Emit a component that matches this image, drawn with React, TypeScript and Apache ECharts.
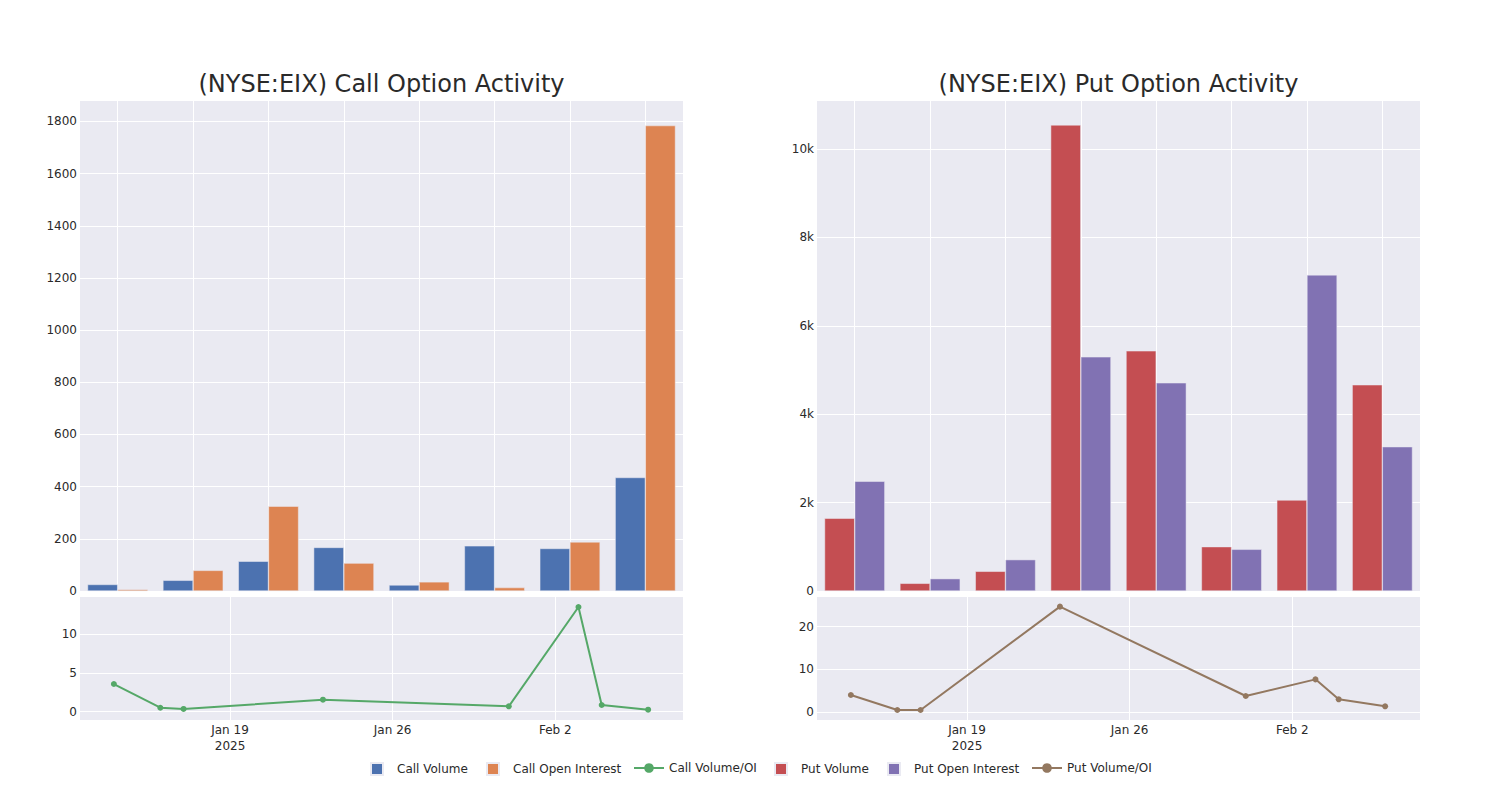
import React, { useEffect, useRef } from "react";
import * as echarts from "echarts";

const dates = ["2025-01-14", "2025-01-16", "2025-01-17", "2025-01-23", "2025-01-31", "2025-02-03", "2025-02-04", "2025-02-06"];
const callVolume = [25, 41, 114, 167, 23, 173, 163, 435];
const callOpenInterest = [6, 79, 325, 107, 35, 13, 188, 1784];
const callVolOI = [3.56, 0.51, 0.35, 1.54, 0.69, 13.47, 0.86, 0.26];
const putVolume = [1645, 174, 446, 10543, 5433, 1003, 2058, 4665];
const putOpenInterest = [2482, 279, 709, 5297, 4710, 943, 7151, 3264];
const putVolOI = [3.98, 0.47, 0.47, 24.7, 3.75, 7.65, 2.97, 1.33];
const dateTicks = ["2025-01-19", "2025-01-26", "2025-02-02"];
const callRatioTicks = [0, 5, 10];
const putRatioTicks = [0, 10, 20];
const months = ["Jan", "Feb", "Mar", "Apr", "May", "Jun", "Jul", "Aug", "Sep", "Oct", "Nov", "Dec"];

const FONT = "DejaVu Sans";
const TEXT = "rgb(42,42,42)";
const BG = "rgb(234,234,242)";

const ts = (s: string) => Date.parse(s + "T00:00:00Z");
const HOUR = 3600 * 1000;

export default function App() {
  const ref = useRef<HTMLDivElement>(null);
  useEffect(() => {
    if (!ref.current) return;
    const chart = echarts.init(ref.current, null, { renderer: "svg" });
    const tickTs = dateTicks.map(ts);
    const timeMin = ts("2025-01-12") + 13 * HOUR;
    const timeMax = ts("2025-02-07") + 12 * HOUR;
    const timeFormatter = (v: number) => {
      const d = new Date(v);
      const base = `${months[d.getUTCMonth()]} ${d.getUTCDate()}`;
      return v === tickTs[0] ? `${base}\n${d.getUTCFullYear()}` : base;
    };
    const catAxis = (gridIndex: number) => ({
      type: "category",
      gridIndex,
      data: dates,
      boundaryGap: true,
      axisLine: { show: false },
      axisTick: { show: false },
      axisLabel: { show: false },
      splitLine: { show: true, interval: 0, alignWithLabel: true, lineStyle: { color: "#fff", width: 1 } },
    });
    const timeAxis = (gridIndex: number) => ({
      type: "value",
      gridIndex,
      min: timeMin,
      max: timeMax,
      axisLine: { show: false },
      axisTick: { show: false, customValues: tickTs },
      axisLabel: {
        customValues: tickTs,
        formatter: timeFormatter,
        fontFamily: FONT,
        fontSize: 12,
        color: TEXT,
        lineHeight: 16,
        margin: 2,
      },
      splitLine: { show: true, lineStyle: { color: "#fff", width: 1 } },
    });
    const yLabel = { fontFamily: FONT, fontSize: 12, color: TEXT, margin: 3 };
    const squareLegend = (name: string, textLeft: number) => ({
      data: [name],
      left: textLeft - 26,
      top: 762,
      padding: 0,
      icon: "rect",
      itemWidth: 12,
      itemHeight: 12,
      textStyle: { fontFamily: FONT, fontSize: 12, color: TEXT, padding: [0, 0, 0, 9] },
    });
    const lineLegend = (name: string, textLeft: number) => ({
      data: [name],
      left: textLeft - 35,
      top: 762,
      padding: 0,
      itemWidth: 30,
      itemHeight: 12,
      textStyle: { fontFamily: FONT, fontSize: 12, color: TEXT },
    });
    const barStyle = (color: string) => ({ color, borderColor: BG, borderWidth: 0.5 });
    const titleStyle = { fontFamily: FONT, fontSize: 24, fontWeight: "normal", color: TEXT };

    chart.setOption({
      animation: false,
      textStyle: { fontFamily: FONT },
      title: [
        { text: "(NYSE:EIX) Call Option Activity", left: 381.5, top: 72, padding: 0, textAlign: "center", textStyle: titleStyle },
        { text: "(NYSE:EIX) Put Option Activity", left: 1118.5, top: 72, padding: 0, textAlign: "center", textStyle: titleStyle },
      ],
      legend: [
        squareLegend("Call Volume", 396),
        squareLegend("Call Open Interest", 512),
        lineLegend("Call Volume/OI", 668),
        squareLegend("Put Volume", 800),
        squareLegend("Put Open Interest", 913),
        lineLegend("Put Volume/OI", 1066),
      ],
      grid: [
        { left: 80, top: 100, width: 603, height: 491, show: true, backgroundColor: BG, borderWidth: 0, containLabel: false },
        { left: 817, top: 100, width: 603, height: 491, show: true, backgroundColor: BG, borderWidth: 0, containLabel: false },
        { left: 80, top: 597, width: 603, height: 123, show: true, backgroundColor: BG, borderWidth: 0, containLabel: false },
        { left: 817, top: 597, width: 603, height: 123, show: true, backgroundColor: BG, borderWidth: 0, containLabel: false },
      ],
      xAxis: [catAxis(0), catAxis(1), timeAxis(2), timeAxis(3)],
      yAxis: [
        {
          type: "value", gridIndex: 0, min: 0, max: 1882, interval: 200,
          axisLine: { show: false }, axisTick: { show: false },
          axisLabel: { ...yLabel, showMaxLabel: false, formatter: (v: number) => String(v) },
          splitLine: { lineStyle: { color: "#fff", width: 1 } },
        },
        {
          type: "value", gridIndex: 1, min: 0, max: 11107, interval: 2000,
          axisLine: { show: false }, axisTick: { show: false },
          axisLabel: { ...yLabel, showMaxLabel: false, formatter: (v: number) => (v === 0 ? "0" : `${v / 1000}k`) },
          splitLine: { lineStyle: { color: "#fff", width: 1 } },
        },
        {
          type: "value", gridIndex: 2, min: -1.07, max: 14.76,
          axisLine: { show: false }, axisTick: { show: false, customValues: callRatioTicks },
          axisLabel: { ...yLabel, customValues: callRatioTicks, formatter: (v: number) => String(v) },
          splitLine: { lineStyle: { color: "#fff", width: 1 } },
        },
        {
          type: "value", gridIndex: 3, min: -1.88, max: 26.96,
          axisLine: { show: false }, axisTick: { show: false, customValues: putRatioTicks },
          axisLabel: { ...yLabel, customValues: putRatioTicks, formatter: (v: number) => String(v) },
          splitLine: { lineStyle: { color: "#fff", width: 1 } },
        },
      ],
      series: [
        { name: "Call Volume", type: "bar", xAxisIndex: 0, yAxisIndex: 0, data: callVolume, barGap: "0%", barCategoryGap: "20%", itemStyle: barStyle("#4C72B0") },
        { name: "Call Open Interest", type: "bar", xAxisIndex: 0, yAxisIndex: 0, data: callOpenInterest, barGap: "0%", barCategoryGap: "20%", itemStyle: barStyle("#DD8452") },
        {
          name: "Call Volume/OI", type: "line", xAxisIndex: 2, yAxisIndex: 2,
          data: dates.map((d, i) => [ts(d), callVolOI[i]]),
          symbol: "circle", symbolSize: 6, showSymbol: true,
          lineStyle: { color: "#55A868", width: 2 }, itemStyle: { color: "#55A868" },
        },
        { name: "Put Volume", type: "bar", xAxisIndex: 1, yAxisIndex: 1, data: putVolume, barGap: "0%", barCategoryGap: "20%", itemStyle: barStyle("#C44E52") },
        { name: "Put Open Interest", type: "bar", xAxisIndex: 1, yAxisIndex: 1, data: putOpenInterest, barGap: "0%", barCategoryGap: "20%", itemStyle: barStyle("#8172B3") },
        {
          name: "Put Volume/OI", type: "line", xAxisIndex: 3, yAxisIndex: 3,
          data: dates.map((d, i) => [ts(d), putVolOI[i]]),
          symbol: "circle", symbolSize: 6, showSymbol: true,
          lineStyle: { color: "#937860", width: 2 }, itemStyle: { color: "#937860" },
        },
      ],
    });
    return () => chart.dispose();
  }, []);
  return <div ref={ref} style={{ position: "fixed", left: 0, top: 0, width: 1500, height: 800, background: "#fff" }} />;
}
